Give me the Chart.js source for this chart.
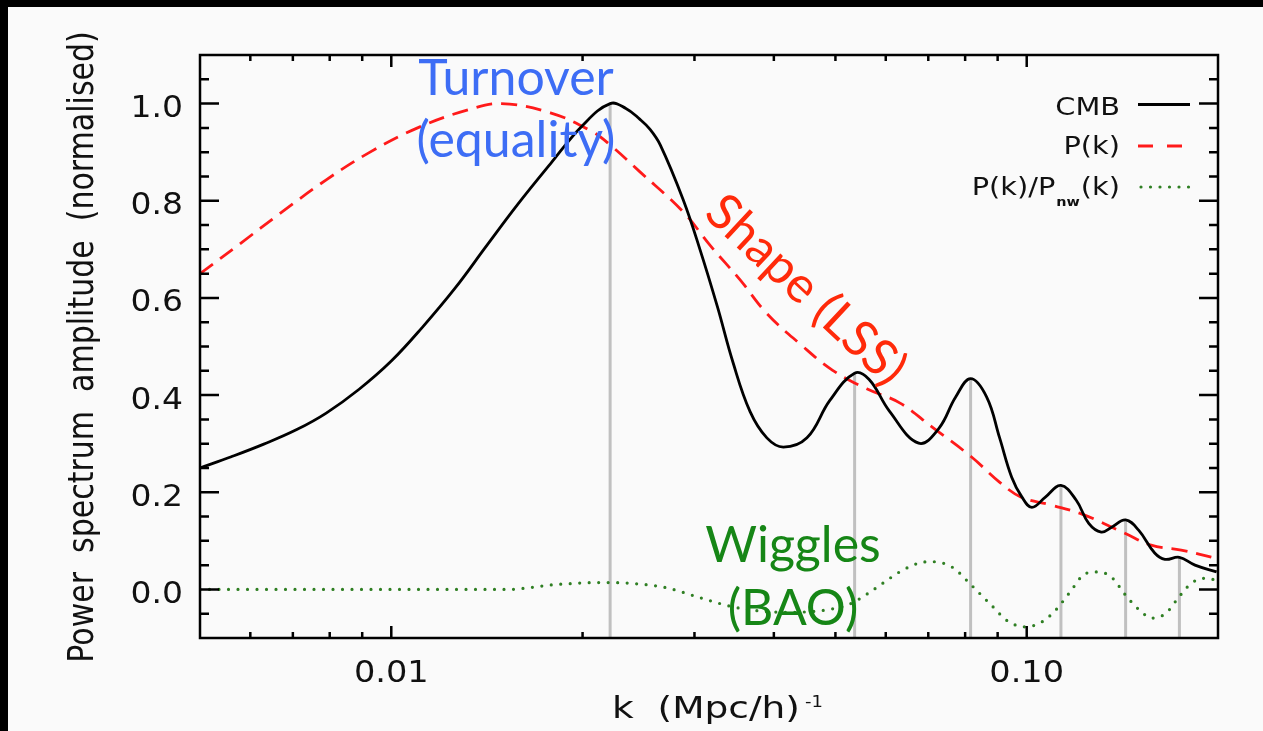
<!DOCTYPE html>
<html>
<head>
<meta charset="utf-8">
<script src="https://cdn.jsdelivr.net/npm/chart.js@4.4.1/dist/chart.umd.min.js"></script>
<style>
  html, body { margin: 0; padding: 0; background: #000; overflow: hidden; }
  canvas { display: block; }
</style>
</head>
<body>
<canvas id="pk" width="1263" height="731"></canvas>
<script>
// CMB-like spectrum (black)
const cmbK = [0.005, 0.0056, 0.0063, 0.0071, 0.0079, 0.0089, 0.0100, 0.0112, 0.0126, 0.0141, 0.0158, 0.0178, 0.0200, 0.0221, 0.0234, 0.0246, 0.0255, 0.0265, 0.0288, 0.0306, 0.0326, 0.0345, 0.0367, 0.0390, 0.0414, 0.0451, 0.0490, 0.0536, 0.0565, 0.0608, 0.0676, 0.0727, 0.0773, 0.0816, 0.0865, 0.0906, 0.0947, 0.0983, 0.1019, 0.1070, 0.1132, 0.1196, 0.1252, 0.1310, 0.1360, 0.1431, 0.1500, 0.1590, 0.1650, 0.1739, 0.1840, 0.1990];
const cmbAmp = [0.250, 0.273, 0.299, 0.329, 0.363, 0.412, 0.470, 0.540, 0.620, 0.706, 0.792, 0.876, 0.955, 1.000, 0.990, 0.968, 0.948, 0.915, 0.802, 0.700, 0.582, 0.467, 0.366, 0.312, 0.293, 0.312, 0.389, 0.445, 0.432, 0.367, 0.301, 0.331, 0.396, 0.434, 0.396, 0.313, 0.231, 0.190, 0.169, 0.190, 0.214, 0.184, 0.136, 0.118, 0.128, 0.143, 0.122, 0.075, 0.062, 0.066, 0.050, 0.036];

// matter power spectrum P(k) (red dashed)
const pkK = [0.005, 0.0058, 0.0067, 0.0079, 0.0092, 0.0110, 0.0132, 0.0149, 0.0178, 0.0206, 0.0221, 0.0246, 0.0288, 0.0318, 0.0354, 0.0390, 0.0440, 0.0495, 0.0560, 0.0631, 0.0710, 0.0818, 0.0906, 0.0980, 0.1090, 0.1222, 0.1430, 0.1570, 0.1750, 0.1990];
const pkAmp = [0.650, 0.713, 0.775, 0.843, 0.898, 0.950, 0.987, 1.000, 0.981, 0.944, 0.915, 0.860, 0.777, 0.707, 0.637, 0.568, 0.505, 0.451, 0.413, 0.384, 0.334, 0.273, 0.221, 0.190, 0.174, 0.155, 0.115, 0.091, 0.081, 0.064];

// wiggles P(k)/Pnw(k) (green dotted)
const bK = [0.005, 0.0100, 0.0140, 0.0154, 0.0166, 0.0178, 0.0192, 0.0206, 0.0221, 0.0246, 0.0272, 0.0306, 0.0345, 0.0385, 0.0424, 0.0465, 0.0495, 0.0527, 0.0560, 0.0594, 0.0631, 0.0680, 0.0710, 0.0763, 0.0818, 0.0873, 0.0938, 0.0997, 0.1056, 0.1110, 0.1166, 0.1239, 0.1296, 0.1360, 0.1431, 0.1506, 0.1575, 0.1656, 0.1735, 0.1817, 0.1911, 0.1990];
const bAmp = [0, 0, 0, 0.000, 0.004, 0.009, 0.012, 0.014, 0.014, 0.011, 0.003, -0.017, -0.036, -0.045, -0.047, -0.045, -0.040, -0.030, -0.010, 0.013, 0.036, 0.055, 0.057, 0.046, 0.009, -0.028, -0.067, -0.077, -0.067, -0.043, -0.008, 0.033, 0.036, 0.025, -0.012, -0.043, -0.059, -0.049, -0.016, 0.013, 0.023, 0.019];

// grey markers under the CMB peaks
const peakK = [0.0221, 0.0536, 0.0816, 0.1132, 0.1431, 0.1739];
const peakAmp = [1.000, 0.445, 0.434, 0.214, 0.143, 0.066];

// axes
const xMin = 0.005, xMax = 0.2;
const yMin = -0.1, yMax = 1.1;
const xMajor = [0.01, 0.1];
const xLabels = ['0.01', '0.10'];
const xMinor = [0.006, 0.007, 0.008, 0.009, 0.02, 0.03, 0.04, 0.05, 0.06, 0.07, 0.08, 0.09];
const yMajor = [0.0, 0.2, 0.4, 0.6, 0.8, 1.0];
const yMinor = [-0.05, 0.05, 0.1, 0.15, 0.25, 0.3, 0.35, 0.45, 0.5, 0.55, 0.65, 0.7, 0.75, 0.85, 0.9, 0.95, 1.05];

function pts(ks, vs) {
    return ks.map((k, i) => ({x: k, y: vs[i]}));
}

function wideText(c, txt, x, y, sx, align) {
    c.save();
    c.translate(x, y);
    c.scale(sx, 1);
    c.textAlign = align;
    c.fillText(txt, 0, 0);
    c.restore();
}

const frame = {
    id: 'frame',
    beforeDraw(chart) {
        const c = chart.ctx;
        c.save();
        c.fillStyle = '#000';
        c.fillRect(0, 0, chart.width, chart.height);
        c.fillStyle = '#fafafa';
        c.fillRect(8, 7, chart.width - 8, chart.height - 7);
        c.restore();
    },
    afterDraw(chart) {
        const c = chart.ctx, a = chart.chartArea;
        const xs = chart.scales.x, ys = chart.scales.y;
        c.save();
        c.strokeStyle = '#000';
        c.lineWidth = 2.5;
        c.strokeRect(a.left, a.top, a.right - a.left, a.bottom - a.top);

        // inward ticks on all four sides
        c.beginPath();
        const xt = (v, len) => {
            const px = xs.getPixelForValue(v);
            c.moveTo(px, a.bottom); c.lineTo(px, a.bottom - len);
            c.moveTo(px, a.top); c.lineTo(px, a.top + len);
        };
        const yt = (v, len) => {
            const py = ys.getPixelForValue(v);
            c.moveTo(a.left, py); c.lineTo(a.left + len, py);
            c.moveTo(a.right, py); c.lineTo(a.right - len, py);
        };
        xMajor.forEach(v => xt(v, 12));
        xMinor.forEach(v => xt(v, 6));
        yMajor.forEach(v => yt(v, 19));
        yMinor.forEach(v => yt(v, 9));
        c.stroke();

        // tick labels
        c.fillStyle = '#111';
        c.textBaseline = 'alphabetic';
        c.font = '30px "DejaVu Sans"';
        xMajor.forEach((v, i) => wideText(c, xLabels[i], xs.getPixelForValue(v), 682, 1.12, 'center'));
        yMajor.forEach(v => wideText(c, v.toFixed(1), a.left - 17, ys.getPixelForValue(v) + 13.5, 1.1, 'right'));

        // axis titles
        c.save();
        c.translate(93, 347);
        c.rotate(-Math.PI / 2);
        c.scale(1, 1.2);
        c.textAlign = 'center';
        c.font = '30px "DejaVu Sans"';
        c.fillText('Power  spectrum  amplitude  (normalised)', 0, 0);
        c.restore();

        c.font = '30px "DejaVu Sans"';
        wideText(c, 'k  (Mpc/h)', 612, 718, 1.25, 'left');
        c.font = '15px "DejaVu Sans"';
        wideText(c, '-1', 805, 707, 1.2, 'left');

        // legend
        c.font = '24px "DejaVu Sans"';
        const lx = 1120;
        wideText(c, 'CMB', lx, 115, 1.2, 'right');
        wideText(c, 'P(k)', lx, 154, 1.2, 'right');
        const w3 = c.measureText('(k)').width * 1.2;
        wideText(c, '(k)', lx, 195, 1.2, 'right');
        c.font = 'bold 12px "DejaVu Sans"';
        const wSub = c.measureText('nw').width * 1.2;
        wideText(c, 'nw', lx - w3 - 1, 206, 1.2, 'right');
        c.font = '24px "DejaVu Sans"';
        wideText(c, 'P(k)/P', lx - w3 - wSub - 2, 195, 1.2, 'right');

        c.lineWidth = 2.8;
        c.strokeStyle = '#000';
        c.beginPath(); c.moveTo(1138, 104.5); c.lineTo(1190, 104.5); c.stroke();
        c.strokeStyle = '#ff1a1a';
        c.setLineDash([15, 14]);
        c.beginPath(); c.moveTo(1138, 146); c.lineTo(1183, 146); c.stroke();
        c.strokeStyle = '#2f7f23';
        c.lineWidth = 3.2;
        c.lineCap = 'round';
        c.setLineDash([0, 9.5]);
        c.beginPath(); c.moveTo(1141, 187); c.lineTo(1192, 187); c.stroke();
        c.setLineDash([]);
        c.lineCap = 'butt';

        // annotations
        c.textAlign = 'center';
        c.font = '50px Lato';
        c.fillStyle = '#3d6df5';
        c.fillText('Turnover', 516, 95);
        c.fillText('(equality)', 516, 157);
        c.fillStyle = '#168616';
        c.fillText('Wiggles', 793, 562);
        c.fillText('(BAO)', 793, 625);
        c.save();
        c.translate(806, 290);
        c.rotate(43 * Math.PI / 180);
        c.fillStyle = '#ff2a0a';
        c.textBaseline = 'middle';
        c.fillText('Shape (LSS)', 0, 0);
        c.restore();

        c.restore();
    }
};

const chart = new Chart(document.getElementById('pk'), {
    type: 'line',
    data: {
        datasets: [
            {
                label: 'CMB',
                data: pts(cmbK, cmbAmp),
                borderColor: '#000',
                borderWidth: 2.8,
                tension: 0.4,
                order: 1
            },
            {
                label: 'P(k)',
                data: pts(pkK, pkAmp),
                borderColor: '#ff1a1a',
                borderWidth: 2.8,
                borderDash: [16, 9],
                tension: 0.4,
                order: 2
            },
            {
                label: 'P(k)/Pnw(k)',
                data: pts(bK, bAmp),
                borderColor: '#2f7f23',
                borderWidth: 3.2,
                borderDash: [0, 9.5],
                borderCapStyle: 'round',
                cubicInterpolationMode: 'monotone',
                order: 3
            },
            {
                label: 'peaks',
                data: peakK.flatMap((k, i) => [{x: k, y: yMin}, {x: k, y: peakAmp[i]}, {x: k, y: null}]),
                borderColor: '#c0c0c0',
                borderWidth: 3,
                tension: 0,
                spanGaps: false,
                order: 4
            }
        ]
    },
    options: {
        responsive: false,
        animation: false,
        layout: {padding: {top: 55, right: 45, left: 0, bottom: 0}},
        elements: {point: {radius: 0}},
        plugins: {legend: {display: false}, tooltip: {enabled: false}},
        scales: {
            x: {
                type: 'logarithmic',
                min: xMin,
                max: xMax,
                grid: {display: false},
                border: {display: false},
                ticks: {display: false},
                afterFit: s => { s.height = 93; }
            },
            y: {
                type: 'linear',
                min: yMin,
                max: yMax,
                grid: {display: false},
                border: {display: false},
                ticks: {display: false},
                afterFit: s => { s.width = 200; }
            }
        }
    },
    plugins: [frame]
});
</script>
</body>
</html>
